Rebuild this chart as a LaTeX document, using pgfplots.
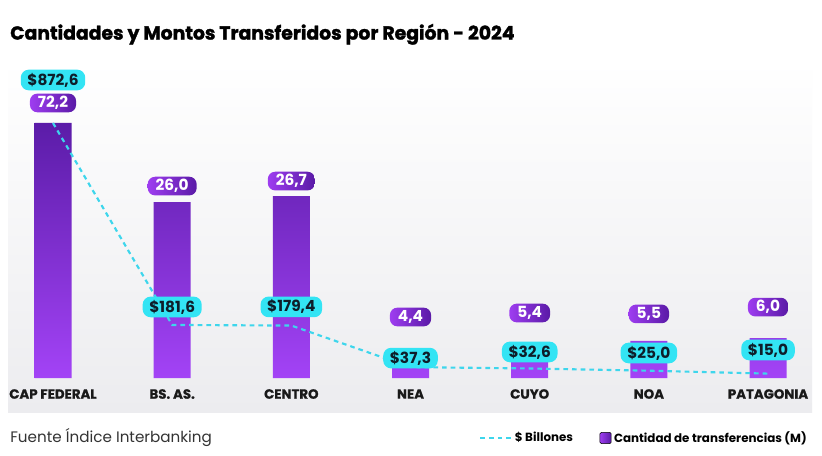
\documentclass[border=0pt]{standalone}
\usepackage{pgfplots}
\pgfplotsset{compat=1.18}
\usepackage{pgfplotstable}
\usepackage{fontspec}
\setmainfont{Poppins}
\definecolor{cyanlab}{HTML}{33E4F4}
\definecolor{cyanline}{HTML}{3ED6EC}
\definecolor{purpL}{HTML}{9E3DF0}
\definecolor{purpD}{HTML}{5A1AA6}
\definecolor{barTop}{HTML}{5B1CA8}
\definecolor{barBot}{HTML}{A343F6}
\definecolor{darktxt}{HTML}{0E1E2A}
\definecolor{panel}{HTML}{ECECEF}

% bars: h = height as drawn in the reference, val = labelled value (M)
\pgfplotstableread{
x h val off
0 72.2 72.2 15
1 49.8 26.0 12
2 51.5 26.7 11.25
3 3.96 4.4 35.25
4 4.53 5.4 36.75
5 10.5 5.5 20.25
6 11.3 6.0 23.25
}\barsdata
% line: $ Billones
\pgfplotstableread{
x y off
0 872.6 32.25
1 181.6 13.5
2 179.4 14
3 37.3 6.75
4 32.6 12.4
5 25.0 13.3
6 15.0 17.7
}\linedata

\begin{document}
\begin{tikzpicture}
\useasboundingbox (0,0) rectangle (616.5pt,341.25pt);
\fill[white] (0,0) rectangle (616.5pt,341.25pt);
\shade[top color=white, bottom color=panel] (6pt,32.25pt) rectangle (609pt,296.25pt);
\node[anchor=west, inner sep=0pt, font=\fontsize{14.1}{16}\selectfont\bfseries\addfontfeature{FakeBold=1.6}] at (7.5pt,315.5pt) {Cantidades y Montos Transferidos por Región - 2024};
\node[anchor=west, inner sep=0pt, font=\fontsize{11.4}{13}\selectfont, text=black!80] at (7.5pt,12.75pt) {Fuente Índice Interbanking};
\pgfplotsset{base/.style={
  at={(12.94pt,57.75pt)}, anchor=south west, scale only axis,
  width=589.9pt, height=234.75pt, xmin=-0.3, xmax=6.3, ymin=0,
  clip=false}}
\begin{axis}[base, ymax=88.6,
  axis line style={draw=none}, major tick length=0pt, ytick=\empty,
  xtick={0,...,6},
  xticklabels={CAP FEDERAL, BS. AS., CENTRO, NEA, CUYO, NOA, PATAGONIA},
  xticklabel style={font=\fontsize{10}{11}\selectfont\bfseries\addfontfeature{FakeBold=0.8}, text=black!90, anchor=center, yshift=-12pt}]
\addplot[ybar, bar width=27.75pt, draw=none, top color=barTop, bottom color=barBot,
  point meta=explicit,
  nodes near coords={\pgfmathprintnumber[fixed,fixed zerofill,precision=1,use comma,assume math mode=true]{\pgfplotspointmeta}},
  visualization depends on={\thisrow{off}\as\myoff},
  every node near coord/.append style={anchor=center, yshift=\myoff pt, text=white,
    font=\fontsize{11.5}{12}\selectfont\bfseries, left color=purpL, right color=purpD,
    rounded corners=5.5pt, inner xsep=6pt, inner ysep=0pt, minimum height=14pt}]
  table[x=x, y=h, meta=val] {\barsdata};
\end{axis}
\begin{axis}[base, ymax=1071.1, hide axis,
  legend style={at={(1.0125,-0.1917)}, anchor=east, draw=none, fill=none,
    legend columns=2, font=\fontsize{8.9}{10}\selectfont\bfseries,
    /tikz/every even column/.append style={column sep=18pt}},
  legend cell align=left]
\addplot[cyanline, line width=1.6pt, dash pattern=on 3.5pt off 3pt, mark=none,
  point meta=y,
  nodes near coords={\$\pgfmathprintnumber[fixed,fixed zerofill,precision=1,use comma,assume math mode=true]{\pgfplotspointmeta}},
  visualization depends on={\thisrow{off}\as\myoff},
  every node near coord/.append style={anchor=center, yshift=\myoff pt, text=darktxt,
    fill=cyanlab, solid, font=\fontsize{11.5}{12}\selectfont\bfseries,
    rounded corners=6pt, inner xsep=5pt, inner ysep=0pt, minimum height=15.5pt},
  legend image code/.code={\draw[cyanline, line width=1.6pt, dash pattern=on 3.5pt off 3pt] (0pt,0pt) -- (23pt,0pt);}]
  table[x=x, y=y] {\linedata};
\addlegendentry{\$ Billones}
\addlegendimage{legend image code/.code={\shade[left color=purpL, right color=purpD, rounded corners=1pt] (0pt,-4.2pt) rectangle (8.4pt,4.2pt);}}
\addlegendentry{Cantidad de transferencias (M)}
\end{axis}
\end{tikzpicture}
\end{document}
